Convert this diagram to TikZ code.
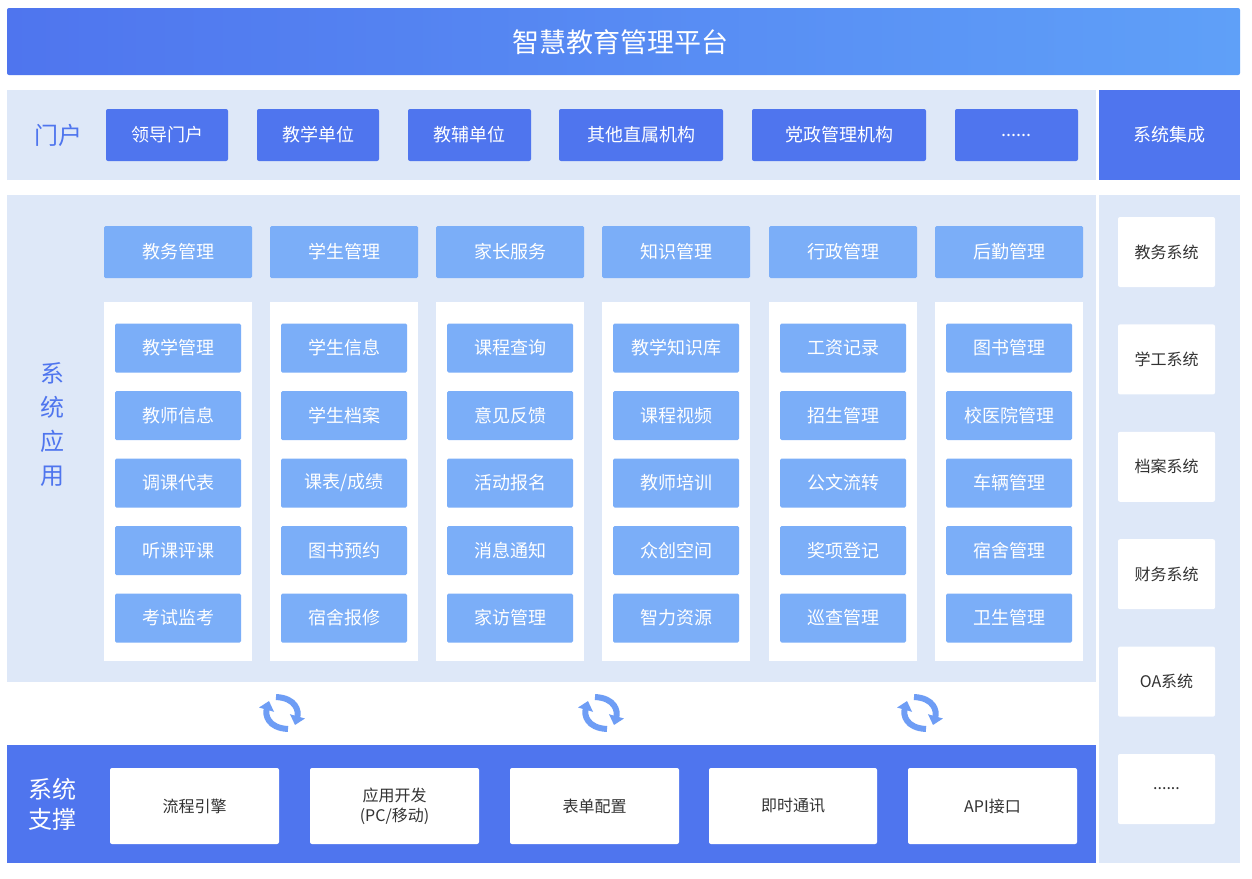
\documentclass[tikz,border=0pt]{standalone}
\usepackage{fontspec}
\setmainfont{Noto Sans CJK SC}
\usetikzlibrary{arrows.meta}
\definecolor{MainBlue}{HTML}{4F75EE}
\definecolor{LightBlue}{HTML}{7BAEF8}
\definecolor{PaleBlue}{HTML}{DEE8F8}
\definecolor{SkyBlue}{HTML}{5FA0F8}
\definecolor{TextGray}{HTML}{333333}
\newcommand\moredots{......}
\tikzset{
  band/.style={fill=PaleBlue, draw=none},
  portalbox/.style={fill=MainBlue, rounded corners=2pt, text=white, font=\fontsize{18}{20}\selectfont},
  catbox/.style={fill=LightBlue, rounded corners=1.5pt, text=white, font=\fontsize{18}{20}\selectfont},
  itembox/.style={fill=LightBlue, rounded corners=1.5pt, text=white, font=\fontsize{18}{20}\selectfont},
  sysbox/.style={fill=white, rounded corners=2pt, text=TextGray, font=\fontsize{16}{20}\selectfont},
  cycle/.style={line width=6pt, LightBlue!70!MainBlue, -{Triangle[length=9pt,width=15pt]}}
}
\begin{document}
\begin{tikzpicture}[x=1pt,y=1pt,yscale=-1]
  \useasboundingbox[fill=white] (0,0) rectangle (1252,878);

  % Title bar
  \shade[left color=MainBlue, right color=SkyBlue, rounded corners=2pt] (7,8) rectangle (1240,75);
  \node[text=white, font=\fontsize{27}{30}\selectfont] (title) at (620,42) {智慧教育管理平台};

  % Portal band
  \fill[band] (7,90) rectangle (1096,180);
  \node[text=MainBlue, font=\fontsize{24}{26}\selectfont] (portal) at (58,135) {门户};
  \foreach \xa/\xb/\txt [count=\i] in {106/228/领导门户, 257/379/教学单位, 408/531/教辅单位, 559/723/其他直属机构, 752/926/党政管理机构, 955/1078/\moredots}
    \node[portalbox, minimum width={\xb-\xa}, minimum height=52] (p\i) at ({(\xa+\xb)/2},135) {\txt};
  \node[fill=MainBlue, text=white, minimum width=141, minimum height=90, font=\fontsize{18}{20}\selectfont] (integ) at (1169.5,135) {系统集成};

  % Application band
  \fill[band] (7,195) rectangle (1096,682);
  \node[text=MainBlue, font=\fontsize{24}{26}\selectfont, align=center] (apps) at (52,425) {系\\[8pt]统\\[8pt]应\\[8pt]用};
  \foreach \xa/\head [count=\c] in {104/教务管理, 270/学生管理, 436/家长服务, 602/知识管理, 769/行政管理, 935/后勤管理} {
    \node[catbox, minimum width=148, minimum height=52] (cat\c) at ({\xa+74},252) {\head};
    \fill[white] (\xa,302) rectangle ({\xa+148},661);
  }
  % Column items
  \foreach \c/\list in {1/{教学管理,教师信息,调课代表,听课评课,考试监考},
                        2/{学生信息,学生档案,课表/成绩,图书预约,宿舍报修},
                        3/{课程查询,意见反馈,活动报名,消息通知,家访管理},
                        4/{教学知识库,课程视频,教师培训,众创空间,智力资源},
                        5/{工资记录,招生管理,公文流转,奖项登记,巡查管理},
                        6/{图书管理,校医院管理,车辆管理,宿舍管理,卫生管理}}
    \foreach \item [count=\r] in \list
      \node[itembox, minimum width=126, minimum height=49] (it\c-\r) at (cat\c.center |- 0,{348+67.5*(\r-1)}) {\item};

  % Integrated systems column
  \fill[band] (1099,195) rectangle (1240,863);
  \foreach \txt [count=\i] in {教务系统, 学工系统, 档案系统, 财务系统, OA系统, \moredots}
    \node[sysbox, minimum width=97, minimum height=70] (s\i) at (1166.5,{252+107.4*(\i-1)}) {\txt};

  % Exchange icons
  \foreach \x [count=\i] in {282,601,920} {
    \coordinate (ex\i) at (\x,713);
    \draw[cycle] ([shift={(6,16)}]ex\i) .. controls ([shift={(-14,15)}]ex\i) and ([shift={(-17,2)}]ex\i) .. ([shift={(-13,-12)}]ex\i);
    \draw[cycle] ([shift={(-6,-16)}]ex\i) .. controls ([shift={(14,-15)}]ex\i) and ([shift={(17,-2)}]ex\i) .. ([shift={(13,12)}]ex\i);
  }

  % Support band
  \fill[MainBlue] (7,745) rectangle (1096,863);
  \node[text=white, font=\fontsize{24}{26}\selectfont, align=center] (support) at (52,804) {系统\\[4pt]支撑};
  \foreach \xa/\xb/\txt [count=\i] in {110/279/流程引擎, 310/479/{应用开发\\(PC/移动)}, 510/679/表单配置, 709/877/即时通讯, 908/1077/API接口}
    \node[sysbox, align=center, minimum width={\xb-\xa}, minimum height=76] (b\i) at ({(\xa+\xb)/2},806) {\txt};
\end{tikzpicture}
\end{document}
